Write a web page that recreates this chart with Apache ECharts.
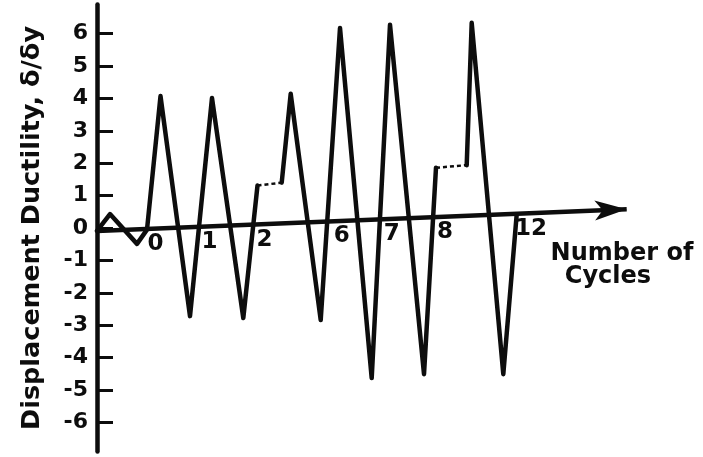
<!DOCTYPE html>
<html>
<head>
<meta charset="utf-8">
<script src="https://cdn.jsdelivr.net/npm/echarts@6/dist/echarts.min.js"></script>
<style>
html,body{margin:0;padding:0;background:#fff;}
#chart{width:703px;height:457px;}
</style>
</head>
<body>
<div id="chart"></div>
<script>
// Loading history: time steps (arbitrary units along the cycle axis) and ductility values
const stepX = [0, 1.3, 4.0, 5.0, 6.35, 9.3, 11.5, 14.63, 16.05, 18.47, 19.37, 22.37, 24.3, 27.47, 29.3, 32.7, 33.9, 36.97, 37.47, 40.63, 41.97];
const ductility = [-0.09, 0.43, -0.49, -0.05, 4.07, -2.72, 4.01, -2.78, 1.31, 1.40, 4.14, -2.84, 6.17, -4.63, 6.27, -4.51, 1.86, 1.94, 6.33, -4.51, 0.42];
// segments (start index) drawn dashed
const dashedStarts = [8, 16];
// cycle-count marks along the horizontal axis
const cycleTicks = ['0', '1', '2', '6', '7', '8', '12'];
const cycleTickX = [5.85, 11.25, 16.75, 24.47, 29.47, 34.8, 43.4];
// drawn baseline (cycle axis) end points, in data units
const baselineStart = [0, -0.093];
const baselineEnd = [52.97, 0.577];
// y tick values
const yTicks = [-6, -5, -4, -3, -2, -1, 0, 1, 2, 3, 4, 5, 6];

const INK = '#0d0d0d';
const FONT = 'DejaVu Sans';

function baselineY(x) {
  const s = (baselineEnd[1] - baselineStart[1]) / (baselineEnd[0] - baselineStart[0]);
  return baselineStart[1] + s * (x - baselineStart[0]);
}

// Build solid and dashed runs
const solidRuns = [];
const dashedRuns = [];
let run = [[stepX[0], ductility[0]]];
for (let i = 0; i < stepX.length - 1; i++) {
  const p = [stepX[i + 1], ductility[i + 1]];
  if (dashedStarts.includes(i)) {
    if (run.length > 1) solidRuns.push(run);
    dashedRuns.push([[stepX[i], ductility[i]], p]);
    run = [p];
  } else {
    run.push(p);
  }
}
if (run.length > 1) solidRuns.push(run);

const series = [];
solidRuns.forEach((r, k) => {
  const s = {
    type: 'line', data: r, showSymbol: false, symbol: 'none',
    lineStyle: { color: INK, width: 4.5, join: 'round', cap: 'round' },
    z: 3
  };
  if (k === 0) {
    s.markLine = {
      silent: true, animation: false,
      symbol: ['none', 'arrow'], symbolSize: [15, 32],
      label: { show: false },
      lineStyle: { color: INK, width: 4.5, type: 'solid' },
      data: [[{ coord: baselineStart }, { coord: baselineEnd }]]
    };
  }
  series.push(s);
});
dashedRuns.forEach(r => {
  series.push({
    type: 'line', data: r, showSymbol: false, symbol: 'none',
    lineStyle: { color: INK, width: 2.5, type: [4, 3] }, z: 3
  });
});
series.push({
  type: 'scatter', symbol: 'circle', symbolSize: 2, itemStyle: { color: INK, opacity: 1 },
  data: cycleTicks.map((t, i) => ({ name: t, value: [cycleTickX[i], baselineY(cycleTickX[i])] })),
  label: { show: true, formatter: '{b}', position: 'inside', offset: [0, 15.5],
    color: INK, opacity: 1, textBorderWidth: 0, fontSize: 23, fontWeight: 'bold', fontFamily: FONT },
  emphasis: { disabled: true },
  z: 4
});

const chart = echarts.init(document.getElementById('chart'), null, { renderer: 'canvas' });
chart.setOption({
  animation: false,
  backgroundColor: '#fff',
  grid: { left: 97, width: 540, top: 4.4, height: 447.2 },
  xAxis: { type: 'value', min: 0, max: 54, show: false },
  yAxis: {
    type: 'value', min: -6.9, max: 6.9,
    name: 'Displacement Ductility, δ/δy',
    nameLocation: 'middle', nameRotate: 90, nameGap: 52,
    nameTextStyle: { color: INK, fontSize: 25.5, fontWeight: 'bold', fontFamily: FONT },
    axisLine: { show: true, lineStyle: { color: INK, width: 4.5 } },
    axisTick: { show: true, inside: true, length: 16, lineStyle: { color: INK, width: 3 }, customValues: yTicks },
    axisLabel: { show: true, margin: 9, color: INK, fontSize: 22, fontWeight: 'bold', fontFamily: FONT, customValues: yTicks },
    splitLine: { show: false }
  },
  graphic: [
    { type: 'text', x: 622, y: 254, style: { text: 'Number of', font: 'bold 24px "DejaVu Sans"', fill: INK, align: 'center', verticalAlign: 'middle' } },
    { type: 'text', x: 608, y: 277, style: { text: 'Cycles', font: 'bold 24px "DejaVu Sans"', fill: INK, align: 'center', verticalAlign: 'middle' } }
  ],
  series: series
});
</script>
</body>
</html>
